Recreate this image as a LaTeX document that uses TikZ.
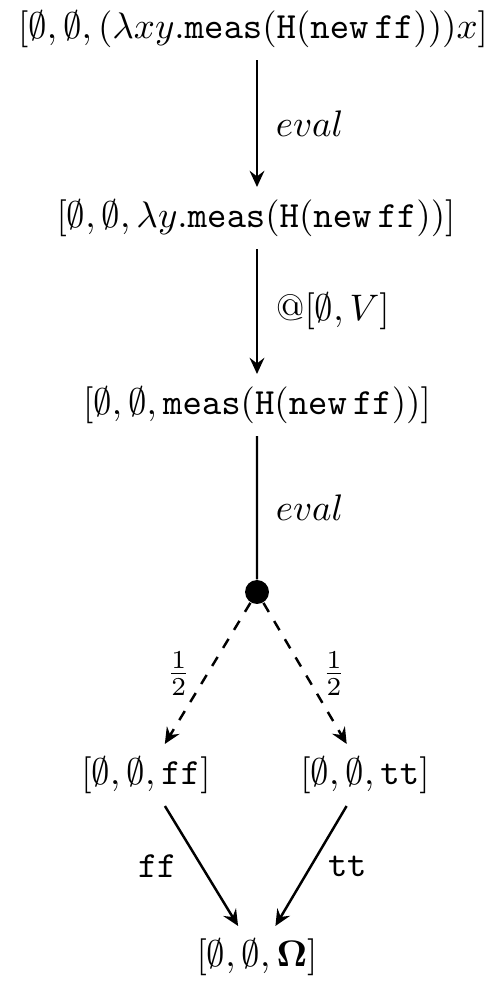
\documentclass[tikz,border=0pt]{standalone}
\usetikzlibrary{arrows.meta,positioning}
\definecolor{evInk}{HTML}{000000}
\tikzset{
  ev canvas/.style={fill=white},
  ev state/.style={text=evInk, inner sep=3.2pt, scale=1.05, transform shape},
  ev step/.style={
    draw=evInk,
    line width=.7pt,
    -{Stealth[length=4.6pt,width=4.2pt,inset=1.6pt]}
  },
  ev branch/.style={ev step, dash pattern=on 3pt off 3pt},
  ev plain/.style={draw=evInk, line width=.7pt},
  ev choice/.style={circle, fill=evInk, inner sep=0pt, minimum size=6.8pt},
  ev label/.style={text=evInk, scale=1.05, transform shape}
}

\begin{document}
\begin{tikzpicture}[x=.01cm,y=-.01cm]
  \path[ev canvas] (0,0) rectangle (504,989);
  \useasboundingbox (0,0) rectangle (504,989);

  % states of the run
  \node[ev state] (init) at (253,29)
    {$[\emptyset,\emptyset,(\lambda xy.\mathtt{meas}(\mathtt{H}(\mathtt{new}\,\mathtt{ff})))x]$};
  \node[ev state] (abs) at (256,218)
    {$[\emptyset,\emptyset,\lambda y.\mathtt{meas}(\mathtt{H}(\mathtt{new}\,\mathtt{ff}))]$};
  \node[ev state] (app) at (257,405)
    {$[\emptyset,\emptyset,\mathtt{meas}(\mathtt{H}(\mathtt{new}\,\mathtt{ff}))]$};
  \node[ev choice] (coin) at (257,592) {};
  \node[ev state] (false) at (146,775) {$[\emptyset,\emptyset,\mathtt{ff}]$};
  \node[ev state] (true) at (365,775) {$[\emptyset,\emptyset,\mathtt{tt}]$};
  \node[ev state] (fail) at (257,957) {$[\emptyset,\emptyset,\mathbf{\Omega}]$};

  \draw[ev step] (init.south -| coin) -- (abs.north -| coin)
    node[ev label, midway, right=1.5pt] {$eval$};
  \draw[ev step] (abs.south -| coin) -- (app.north -| coin)
    node[ev label, midway, right=1.5pt] {$@[\emptyset,V]$};
  \draw[ev plain] (app) -- (coin)
    node[ev label, midway, right=1.5pt] {$eval$};

  % probabilistic branching
  \draw[ev branch] (coin) -- (false)
    node[ev label, midway, left=1pt] {$\frac{1}{2}$};
  \draw[ev branch] (coin) -- (true)
    node[ev label, midway, right=1pt] {$\frac{1}{2}$};

  \draw[ev step] (false) -- (fail)
    node[ev label, midway, left=3pt] {\texttt{ff}};
  \draw[ev step] (true) -- (fail)
    node[ev label, midway, right=1pt] {\texttt{tt}};
\end{tikzpicture}
\end{document}
